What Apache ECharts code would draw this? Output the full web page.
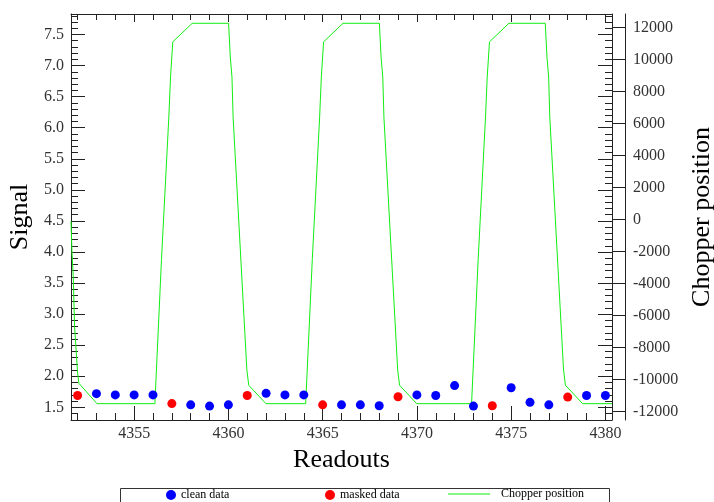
<!DOCTYPE html>
<html><head><meta charset="utf-8">
<script src="https://cdn.jsdelivr.net/npm/echarts@6/dist/echarts.min.js"></script>
<style>html,body{margin:0;padding:0;background:#fff}#c{width:714px;height:502px}</style>
</head><body><div id="c"></div>
<script>
// ---- data ----
const cleanReadouts = [4353,4354,4355,4356,4358,4359,4360,4362,4363,4364,4366,4367,4368,4370,4371,4372,4373,4375,4376,4377,4379,4380];
const cleanValues   = [1.72,1.70,1.70,1.70,1.54,1.52,1.54,1.725,1.70,1.70,1.54,1.54,1.525,1.70,1.69,1.85,1.52,1.815,1.58,1.54,1.69,1.69];
const maskedReadouts = [4352,4357,4361,4365,4369,4374,4378];
const maskedValues   = [1.69,1.56,1.69,1.54,1.67,1.525,1.665];
const chopperReadouts = [4351.65,4351.70,4351.77,4351.84,4352.00,4352.07,4353.03,
  4356.10,4356.45,4356.84,4356.93,4357.05,4358.08,4360.01,4360.10,4360.19,4360.25,4360.98,4361.08,4361.99,
  4364.10,4364.45,4364.84,4364.93,4365.05,4366.08,4368.01,4368.10,4368.19,4368.25,4368.98,4369.08,4369.99,
  4372.90,4373.25,4373.64,4373.73,4373.85,4374.88,4376.81,4376.90,4376.99,4377.05,4377.78,4377.88,4378.79,
  4380.35];
const chopperValues = [-90,-2000,-3570,-6690,-9600,-10230,-11500,
  -11500,-2500,6400,8900,11100,12260,12260,10150,8900,6400,-9400,-10350,-11500,
  -11500,-2500,6400,8900,11100,12260,12260,10150,8900,6400,-9400,-10350,-11500,
  -11500,-2500,6400,8900,11100,12260,12260,10150,8900,6400,-9400,-10350,-11500,
  -11500];
const xTicks = [4355,4360,4365,4370,4375,4380];
const xMinorTicks = [];
for (let v = 4352; v <= 4380; v++) xMinorTicks.push(v);
const signalTicks = [1.5,2.0,2.5,3.0,3.5,4.0,4.5,5.0,5.5,6.0,6.5,7.0,7.5];
const signalMinorTicks = [];
for (let k = 13; k <= 78; k++) signalMinorTicks.push(k / 10);
const chopperTicks = [-12000,-10000,-8000,-6000,-4000,-2000,0,2000,4000,6000,8000,10000,12000];

const X0 = 4351.65, X1 = 4380.35;
const Y0 = 1.296, Y1 = 7.83;
const C0 = -12520, C1 = 12840;

const FONT = 'Liberation Serif';
const LINE = '#222';
const TXT = '#333';

function xa(pos, ticks, len, lineShow, labels) {
  return {
    type: 'value', min: X0, max: X1, position: pos,
    axisLine: {show: lineShow, onZero: false, lineStyle: {color: LINE, width: 1}},
    axisTick: {show: true, inside: true, length: len, customValues: ticks, lineStyle: {color: LINE}},
    axisLabel: labels ? {show: true, customValues: ticks, fontFamily: FONT, fontSize: 16, color: TXT, margin: 6,
      formatter: v => String(Math.round(v))} : {show: false},
    splitLine: {show: false}
  };
}
function ya(pos, min, max, ticks, len, lineShow, offset) {
  return {
    type: 'value', min: min, max: max, position: pos, offset: offset || 0,
    axisLine: {show: lineShow, onZero: false, lineStyle: {color: LINE, width: 1}},
    axisTick: {show: true, inside: true, length: len, customValues: ticks, lineStyle: {color: LINE}},
    axisLabel: {show: false},
    splitLine: {show: false}
  };
}

const xAxes = [
  Object.assign(xa('bottom', xTicks, 14, true, true), {
    name: 'Readouts', nameLocation: 'middle', nameGap: 22,
    nameTextStyle: {fontFamily: FONT, fontSize: 26, color: '#000'}
  }),
  xa('bottom', xMinorTicks, 7, false, false),
  xa('top', xTicks, 8, true, false),
  xa('top', xMinorTicks, 6, false, false)
];
const ySig = ya('left', Y0, Y1, signalTicks, 14, true);
ySig.axisLabel = {show: true, customValues: signalTicks, fontFamily: FONT, fontSize: 16, color: TXT, margin: 7,
  formatter: v => Number(v).toFixed(1)};
ySig.name = 'Signal'; ySig.nameLocation = 'middle'; ySig.nameRotate = 90; ySig.nameGap = 33;
ySig.nameTextStyle = {fontFamily: FONT, fontSize: 26, color: '#000'};
const yChop = ya('right', C0, C1, chopperTicks, 13, true, 13);
yChop.axisLabel = {show: true, customValues: chopperTicks, fontFamily: FONT, fontSize: 16, color: TXT, margin: 8,
  formatter: v => String(Math.round(v))};
yChop.name = 'Chopper position'; yChop.nameLocation = 'middle'; yChop.nameRotate = 90; yChop.nameGap = 57;
yChop.nameTextStyle = {fontFamily: FONT, fontSize: 26, color: '#000'};
const yAxes = [
  ySig,
  ya('left', Y0, Y1, signalMinorTicks, 7, false),
  ya('right', Y0, Y1, signalTicks, 14, true),
  ya('right', Y0, Y1, signalMinorTicks, 7, false),
  yChop
];

const chart = echarts.init(document.getElementById('c'), null, {renderer: 'canvas'});
const legendText = {fontFamily: FONT, fontSize: 12, color: '#000'};
chart.setOption({
  animation: false,
  backgroundColor: '#fff',
  grid: {left: 71, right: 102, top: 14, bottom: 82, containLabel: false, outerBoundsMode: 'none'},
  xAxis: xAxes,
  yAxis: yAxes,
  graphic: [{type: 'rect', left: 118, top: 486, shape: {width: 489, height: 30},
    style: {fill: 'none', stroke: '#333', lineWidth: 1}, z: 0}],
  legend: [
    {data: ['clean data'], left: 166, top: 489, padding: 0, itemWidth: 10, itemHeight: 10, icon: 'circle', textStyle: legendText, selectedMode: false},
    {data: ['masked data'], left: 325, top: 489, padding: 0, itemWidth: 10, itemHeight: 10, icon: 'circle', textStyle: legendText, selectedMode: false},
    {data: ['Chopper position'], left: 448, top: 488, padding: 0, itemWidth: 42, itemHeight: 1, icon: 'rect',
      textStyle: Object.assign({padding: [0, 0, 0, 6]}, legendText), selectedMode: false}
  ],
  series: [
    {name: 'Chopper position', type: 'line', xAxisIndex: 0, yAxisIndex: 4, z: 1,
      data: chopperReadouts.map((r, i) => [r, chopperValues[i]]),
      symbol: 'none', showSymbol: false, lineStyle: {color: '#11ee11', width: 1}, itemStyle: {color: '#11ee11'}},
    {name: 'clean data', type: 'scatter', xAxisIndex: 0, yAxisIndex: 0, z: 3,
      data: cleanReadouts.map((r, i) => [r, cleanValues[i]]),
      symbol: 'circle', symbolSize: 9, itemStyle: {color: '#0000ff', opacity: 1}},
    {name: 'masked data', type: 'scatter', xAxisIndex: 0, yAxisIndex: 0, z: 3,
      data: maskedReadouts.map((r, i) => [r, maskedValues[i]]),
      symbol: 'circle', symbolSize: 9, itemStyle: {color: '#ff0000', opacity: 1}}
  ]
});
</script></body></html>
